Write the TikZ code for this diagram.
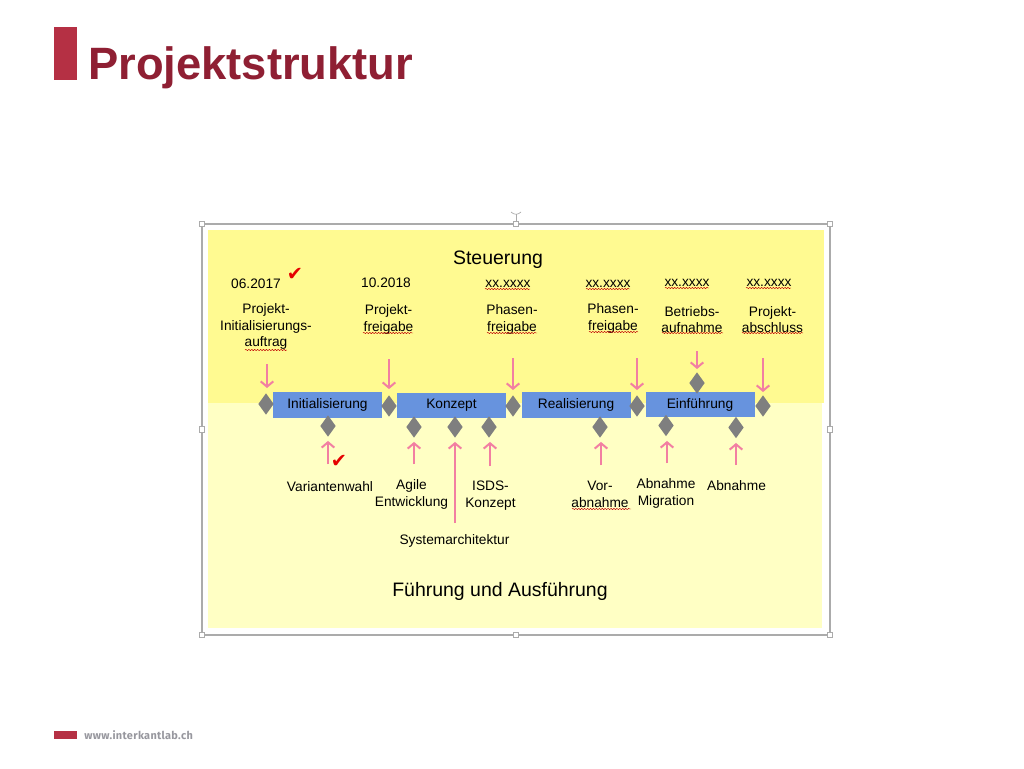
\documentclass[tikz,border=0pt]{standalone}
\usepackage{fontspec}
\setmainfont{Liberation Sans}
\newfontfamily\symfont{DejaVu Sans}
\newfontfamily\footfont[LetterSpace=3]{Fira Sans}
\usetikzlibrary{shapes.geometric,arrows.meta,decorations.pathmorphing}
\definecolor{titlered}{HTML}{8F1F33}
\definecolor{barred}{HTML}{B53044}
\definecolor{upper}{HTML}{FFFA91}
\definecolor{lower}{HTML}{FFFFC4}
\definecolor{boxblue}{HTML}{6793DE}
\definecolor{diagray}{HTML}{7F7F7F}
\definecolor{pink}{HTML}{F27FA2}
\definecolor{framegray}{HTML}{ABABAB}
\definecolor{footgray}{HTML}{97979E}
\tikzset{
  x=0.75pt,y=-0.75pt,
  phase/.style={draw=none,fill=boxblue,minimum width=81.75pt,minimum height=19pt,inner sep=0pt,outer sep=0pt,font=\fontsize{10.3}{12}\selectfont},
  gate/.style={diamond,fill=diagray,minimum width=11.5pt,minimum height=16pt,inner sep=0pt,outer sep=0pt},
  lab/.style={align=center,inner sep=0pt,font=\fontsize{10.3}{12.4}\selectfont},
  biglab/.style={inner sep=0pt,font=\fontsize{14.6}{17}\selectfont},
  arr/.style={draw=pink,line width=1.3pt,-{Straight Barb[length=4pt,width=9.5pt,line width=1.5pt]}},
  squig/.style={draw=red!75!black,line width=0.35pt,decorate,decoration={snake,segment length=2.2pt,amplitude=0.5pt}},
  tick/.style={text=red!90!black,inner sep=0pt,font=\symfont\fontsize{14.5}{15}\selectfont},
  handle/.style={draw=framegray,fill=white,line width=0.5pt,minimum size=4.2pt,inner sep=0pt,outer sep=0pt},
}
\begin{document}
\begin{tikzpicture}
\useasboundingbox (0,0) rectangle (1024,768);
\fill[white] (0,0) rectangle (1024,768);
% header and footer
\fill[barred] (54,27) rectangle (77,80);
\node[anchor=base west,inner sep=0pt,text=titlered,font=\bfseries\fontsize{34}{36}\selectfont] (title) at (88,79) {Projektstruktur};
\fill[barred] (54,731) rectangle (77,739);
\node[anchor=base west,inner sep=0pt,text=footgray,font=\footfont\fontsize{8.2}{10}\selectfont\bfseries] (foot) at (84,739) {www.interkantlab.ch};
% embedded picture background
\fill[upper] (208,230) rectangle (824,403);
\fill[lower] (208,403) rectangle (822,628);
% selection frame
\draw[framegray,line width=1.1pt] (202,224) rectangle (830,635);
\node[handle] (h1) at (202,224) {};
\node[handle] (h2) at (516,224) {};
\node[handle] (h3) at (830,224) {};
\node[handle] (h4) at (202,429.5) {};
\node[handle] (h5) at (830,429.5) {};
\node[handle] (h6) at (202,635) {};
\node[handle] (h7) at (516,635) {};
\node[handle] (h8) at (830,635) {};
\coordinate (rot) at (516,214);
\draw[framegray,line width=0.5pt] (h2) -- (rot);
\draw[framegray,line width=0.5pt] (511,212) .. controls (514,215) and (518,215) .. (521,212);
% big labels
\node[biglab] (steu) at (498,259.5) {Steuerung};
\node[biglab] (fuehr) at (500,591) {Führung und Ausführung};
% phases
\node[phase] (init) at (327.5,405) {\raisebox{-0.7pt}{Initialisierung}};
\node[phase] (konz) at (451.5,405.5) {\raisebox{-0.7pt}{Konzept}};
\node[phase] (real) at (576,405) {\raisebox{-0.7pt}{Realisierung}};
\node[phase] (einf) at (700,404.5) {\raisebox{-0.7pt}{Einführung}};
% gates
\node[gate] (g1) at (266,404) {};
\node[gate] (g2) at (389,406) {};
\node[gate] (g3) at (513,406) {};
\node[gate] (g4) at (637,406) {};
\node[gate] (g5) at (697,383) {};
\node[gate] (g6) at (763,406) {};
\node[gate] (u1) at (328,426) {};
\node[gate] (u2) at (414,427) {};
\node[gate] (u3) at (455,427) {};
\node[gate] (u4) at (489,427) {};
\node[gate] (u5) at (600,427) {};
\node[gate] (u6) at (666,425.5) {};
\node[gate] (u7) at (736,427.5) {};
% dates
\node[lab] (d1) at (256,284) {06.2017};
\node[lab] (d2) at (386,283) {10.2018};
\node[lab] (d3) at (508,284) {xx.xxxx};
\node[lab] (d4) at (608,284) {xx.xxxx};
\node[lab] (d5) at (687,283) {xx.xxxx};
\node[lab] (d6) at (769,283) {xx.xxxx};
% milestones
\node[lab] (m1) at (266,326.5) {Projekt-\\Initialisierungs-\\auftrag};
\node[lab] (m2) at (388.5,319.5) {Projekt-\\freigabe};
\node[lab] (m3) at (512,319.5) {Phasen-\\freigabe};
\node[lab] (m4) at (613,318.5) {Phasen-\\freigabe};
\node[lab] (m5) at (692,319.5) {Betriebs-\\aufnahme};
\node[lab] (m6) at (772.5,319.5) {Projekt-\\abschluss};
% lower labels
\node[lab] (l1) at (330,486.5) {Variantenwahl};
\node[lab] (l2) at (411.5,494.5) {Agile\\Entwicklung};
\node[lab] (l3) at (490.5,495.5) {ISDS-\\Konzept};
\node[lab] (l4) at (454.5,540.5) {Systemarchitektur};
\node[lab] (l5) at (600,494.5) {Vor-\\abnahme};
\node[lab] (l6) at (666,493.5) {Abnahme\\Migration};
\node[lab] (l7) at (736.5,486) {Abnahme};
% checks
\node[tick] (c1) at (295,274) {✔};
\node[tick] (c2) at (339,461) {✔};
% arrow tails
\coordinate (a1) at (267,364);
\coordinate (a2) at (389,359);
\coordinate (a3) at (513,358);
\coordinate (a4) at (637,358);
\coordinate (a5) at (697,351);
\coordinate (a6) at (763,358);
\coordinate (b1) at (328,464);
\coordinate (b2) at (414,464);
\coordinate (b3) at (455,523);
\coordinate (b4) at (490,466);
\coordinate (b5) at (601,465);
\coordinate (b6) at (667,463);
\coordinate (b7) at (736,465);
% arrows
\draw[arr,shorten >=4pt] (a1) -- (a1 |- g1.north);
\draw[arr,shorten >=4.7pt] (a2) -- (a2 |- g2.north);
\draw[arr,shorten >=4pt] (a3) -- (a3 |- g3.north);
\draw[arr,shorten >=4pt] (a4) -- (a4 |- g4.north);
\draw[arr,shorten >=2.5pt] (a5) -- (a5 |- g5.north);
\draw[arr,shorten >=2.5pt] (a6) -- (a6 |- g6.north);
\draw[arr,shorten >=3.2pt] (b1) -- (b1 |- u1.south);
\draw[arr,shorten >=3.2pt] (b2) -- (b2 |- u2.south);
\draw[arr,shorten >=3.2pt] (b3) -- (b3 |- u3.south);
\draw[arr,shorten >=3.2pt] (b4) -- (b4 |- u4.south);
\draw[arr,shorten >=3.2pt] (b5) -- (b5 |- u5.south);
\draw[arr,shorten >=3.6pt] (b6) -- (b6 |- u6.south);
\draw[arr,shorten >=3.6pt] (b7) -- (b7 |- u7.south);
% spell-check underlines
\foreach \xa/\xb/\yy in {485/530/289,586/630/289,665/709/288,746/791/288,245/287/350,363/413/333,487/537/333,589/638/332,662/723/333,742/803/333,572/631/509}
  \draw[squig] (\xa,\yy) -- (\xb,\yy);
\end{tikzpicture}
\end{document}
